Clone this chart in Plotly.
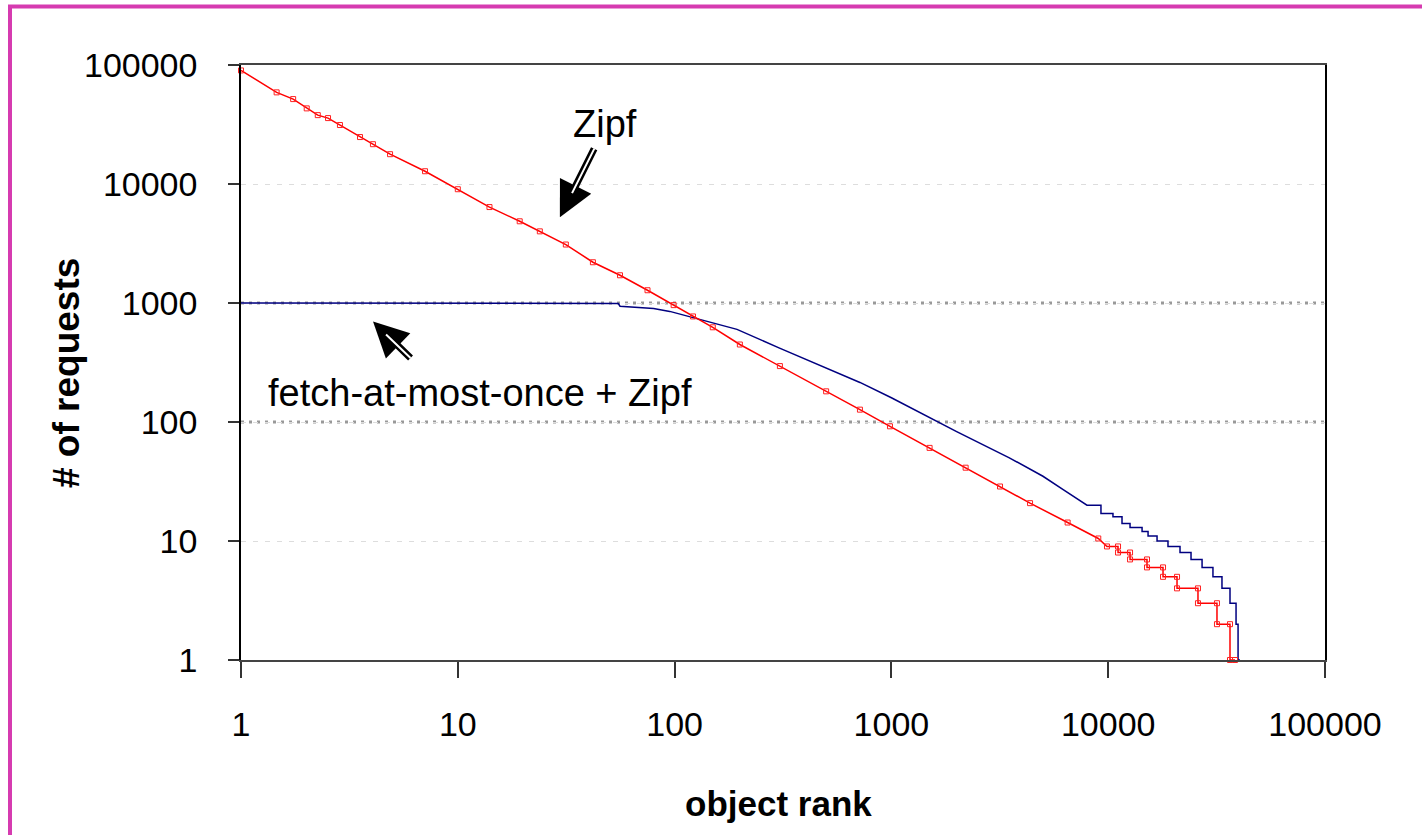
import plotly.graph_objects as go

# ---------------- data ----------------
# Zipf (red): smooth part
red_rank = [1, 1.46, 1.74, 2.01, 2.26, 2.52, 2.86, 3.54, 4.06, 4.87, 7.06, 10, 14, 19.3,
            23.9, 31.5, 42, 56, 75, 99, 121.6, 150, 200, 306, 500, 716, 985, 1500, 2200,
            3170, 4360, 6500, 9000]
red_req = [90000, 58900, 51700, 43200, 37900, 35800, 31300, 24800, 21600, 17800, 12800,
           9040, 6400, 4860, 4000, 3100, 2200, 1710, 1280, 960, 771, 625, 448, 295, 181,
           127, 92, 60.6, 41.3, 28.7, 20.8, 14.3, 10.5]
# Zipf (red): step tail  (value, first rank, last rank)
red_step_val = [9, 8, 7, 6, 5, 4, 3, 2, 1]
red_step_start = [9870, 11100, 12610, 15100, 17900, 20770, 25950, 31750, 36460]
red_step_end = [11100, 12610, 15100, 17900, 20770, 25950, 31750, 36460, 38460]

# fetch-at-most-once + Zipf (blue): smooth part
blue_rank = [1, 10, 30, 55, 56, 80, 95, 131, 194, 303, 500, 716, 1000, 2000, 3500, 5000,
             6200, 7410]
blue_req = [1000, 1000, 995, 990, 940, 900, 850, 728, 600, 420, 284, 215, 160, 83, 50, 35,
            27, 22]
# blue step tail
blue_step_val = [20, 17, 16, 14, 13, 12, 11, 10, 9, 8, 7, 6, 5, 4, 3, 2, 1]
blue_step_start = [7980, 9260, 10520, 11580, 12610, 14330, 15270, 16800, 18870, 21440,
                   24100, 27100, 30420, 33480, 36460, 38880, 39720]
blue_step_end = [9260, 10520, 11580, 12610, 14330, 15270, 16800, 18870, 21440, 24100,
                 27100, 30420, 33480, 36460, 38880, 39720, 40540]

y_ticks = [1, 10, 100, 1000, 10000, 100000]
x_ticks = [1, 10, 100, 1000, 10000, 100000]
ref_lines = [100, 1000]


def with_steps(xs, ys, vals, starts, ends):
    x, y = list(xs), list(ys)
    for v, a, b in zip(vals, starts, ends):
        x += [a, b]
        y += [v, v]
    return x, y


rx, ry = with_steps(red_rank, red_req, red_step_val, red_step_start, red_step_end)
bx, by = with_steps(blue_rank, blue_req, blue_step_val, blue_step_start, blue_step_end)

FONT = "Liberation Sans, Arial, sans-serif"

fig = go.Figure()
fig.add_trace(go.Scatter(x=bx, y=by, mode="lines", line=dict(color="#000080", width=1.5),
                         cliponaxis=False, showlegend=False))
fig.add_trace(go.Scatter(x=rx, y=ry, mode="lines+markers",
                         line=dict(color="#ff0000", width=1.5),
                         marker=dict(symbol="square-open", size=5, color="#ff2020",
                                     line=dict(width=1)),
                         cliponaxis=False, showlegend=False))

for v in ref_lines:
    fig.add_shape(type="line", xref="paper", x0=0, x1=1, yref="y", y0=v, y1=v,
                  line=dict(color="#999999", width=3, dash="3px,5px"), layer="below")

# magenta frame
fig.add_shape(type="line", xref="paper", yref="paper", x0=(10 - 241) / 1084, x1=(10 - 241) / 1084,
              y0=(660 - 5) / 595, y1=(660 - 840) / 595, line=dict(color="#d63bb0", width=4))
fig.add_shape(type="line", xref="paper", yref="paper", x0=(8 - 241) / 1084, x1=(1425 - 241) / 1084,
              y0=(660 - 6.5) / 595, y1=(660 - 6.5) / 595, line=dict(color="#d63bb0", width=4))

ann_font = dict(family=FONT, size=38, color="black")
fig.add_annotation(x=1.679, y=4.503, text="Zipf", showarrow=False, font=ann_font)
fig.add_annotation(x=1.102, y=2.247, text="fetch-at-most-once + Zipf", showarrow=False,
                   font=ann_font)
# block arrows (black outline, white core)
fig.add_annotation(x=1.471, y=3.721, ax=35, ay=-70, text="", showarrow=True,
                   arrowhead=2, arrowsize=1, arrowwidth=7, arrowcolor="black")
fig.add_annotation(x=1.527, y=3.923, ax=23, ay=-46, text="", showarrow=True,
                   arrowhead=0, arrowwidth=2, arrowcolor="white")
fig.add_annotation(x=0.609, y=2.845, ax=39, ay=38, text="", showarrow=True,
                   arrowhead=2, arrowsize=1, arrowwidth=7, arrowcolor="black")
fig.add_annotation(x=0.669, y=2.736, ax=26, ay=25, text="", showarrow=True,
                   arrowhead=0, arrowwidth=2, arrowcolor="white")

# axis titles
fig.add_annotation(xref="paper", yref="paper", x=(67 - 241) / 1084, y=(660 - 373) / 595,
                   xanchor="center", yanchor="middle",
                   text="<b># of requests</b>", textangle=-90, showarrow=False,
                   font=dict(family=FONT, size=37, color="black"))
fig.add_annotation(xref="paper", yref="paper", x=(778 - 241) / 1084, y=(660 - 803) / 595,
                   xanchor="center", yanchor="middle",
                   text="<b>object rank</b>", showarrow=False,
                   font=dict(family=FONT, size=35, color="black"))

fig.update_layout(
    width=1422, height=835,
    margin=dict(l=241, r=97, t=65, b=175),
    paper_bgcolor="white", plot_bgcolor="white",
    font=dict(family=FONT, color="black"),
    showlegend=False,
)
fig.update_xaxes(type="log", range=[0, 5], tickvals=x_ticks, ticktext=[str(t) for t in x_ticks],
                 tickfont=dict(size=34, family=FONT), ticks="outside", ticklen=16,
                 tickcolor="#333333", tickwidth=1.5, ticklabelstandoff=17,
                 showline=True, linecolor="#444444", linewidth=2, mirror=True,
                 showgrid=False, zeroline=False)
fig.update_yaxes(type="log", range=[0, 5], tickvals=y_ticks, ticktext=[str(t) for t in y_ticks],
                 tickfont=dict(size=34, family=FONT), ticks="outside", ticklen=11,
                 tickcolor="#333333", tickwidth=1.5, ticklabelstandoff=24,
                 showline=True, linecolor="black", linewidth=1.5, mirror=True,
                 showgrid=True, gridcolor="#dddddd", gridwidth=1, griddash="5px,7px",
                 zeroline=False)

fig.write_html("out.html")
